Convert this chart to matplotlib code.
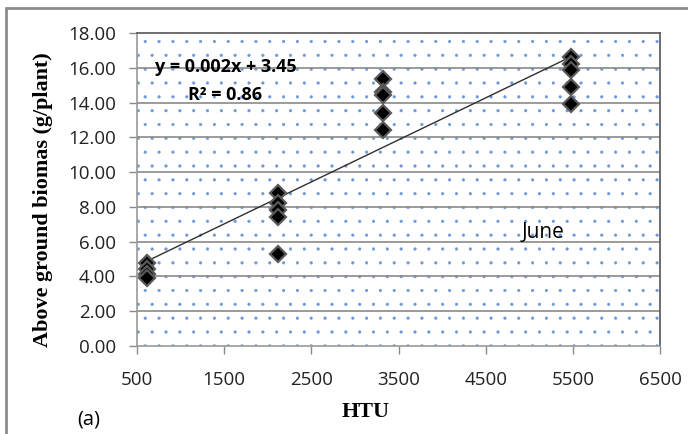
import numpy as np
import matplotlib.pyplot as plt
from matplotlib.patches import Rectangle

# HTU groups and biomass values
htu = [620, 620, 620, 620,
       2120, 2120, 2120, 2120, 2120,
       3320, 3320, 3320, 3320, 3320,
       5480, 5480, 5480, 5480, 5480]
biomass = [4.75, 4.45, 4.15, 3.9,
           8.8, 8.2, 7.8, 7.4, 5.3,
           15.35, 14.6, 14.45, 13.4, 12.45,
           16.6, 16.2, 15.85, 14.9, 13.9]
xticks = [500, 1500, 2500, 3500, 4500, 5500, 6500]
yticks = np.arange(0, 18.01, 2)

# lower dpi so the dot hatch gets the tighter spacing of the original
DPI = 250 / 3
S = 100 / DPI  # keeps sizes as if drawn at 100 dpi

plt.rcParams['hatch.linewidth'] = 0.3
plt.rcParams['hatch.color'] = '#6b98d6'

fig = plt.figure(figsize=(688 / DPI, 434 / DPI), dpi=DPI)
ax = fig.add_axes([137/688, 1 - 346/434, (660-137)/688, (346-33)/434])

# outer frame
fig.patches.append(Rectangle((6/688, -0.1), 1.2, 1 - 8/434 + 0.1, transform=fig.transFigure,
                             fill=False, edgecolor='#8c8c8c', linewidth=2*S))

# dotted fill of the plot area
ax.add_patch(Rectangle((0, 0), 1, 1, transform=ax.transAxes, facecolor='white',
                       hatch='.', edgecolor='#6b98d6', linewidth=0, zorder=0))

for y in yticks[1:-1]:
    ax.axhline(y, color='#8a8a8a', linewidth=1.2*S, zorder=1)

ax.plot(htu, biomass, linestyle='none', marker='D', markersize=8.5*S,
        markerfacecolor='black', markeredgecolor='#5a5a5a', markeredgewidth=1.6*S, zorder=3)

# linear trend line over the data range
k, b = np.polyfit(htu, biomass, 1)
xs = np.array([min(htu), max(htu)])
ax.plot(xs, k * xs + b, color='#303030', linewidth=1.0*S, zorder=2)

ax.set_xlim(500, 6500)
ax.set_ylim(0, 18)
ax.set_xticks(xticks)
ax.set_yticks(yticks)
ax.set_yticklabels([f'{v:.2f}' for v in yticks])
ax.tick_params(direction='out', length=6*S, width=1*S, color='#8a8a8a', labelsize=13.5*S)
ax.tick_params(axis='y', pad=9*S)
ax.tick_params(axis='x', pad=12*S)
for lab in ax.get_xticklabels() + ax.get_yticklabels():
    lab.set_family('Open Sans')
    lab.set_color('#222222')
for s in ax.spines.values():
    s.set_color('#555555')
    s.set_linewidth(1.2*S)
ax.spines['bottom'].set_color('#9a9a9a')
ax.spines['left'].set_color('#9a9a9a')

ax.text(155/688, 1 - 67/434, 'y = 0.002x + 3.45', transform=fig.transFigure, fontsize=13*S,
        fontweight='bold', family='Open Sans', va='center', ha='left', zorder=4)
ax.text(188/688, 1 - 95/434, 'R² = 0.86', transform=fig.transFigure, fontsize=13*S,
        fontweight='bold', family='Open Sans', va='center', ha='left', zorder=4)
ax.text(522/688, 1 - 233/434, 'June', transform=fig.transFigure, fontsize=15*S,
        family='Open Sans', va='center', ha='left', zorder=4)

fig.text(366/688, 1 - 412/434, 'HTU', fontsize=16*S, fontweight='bold',
         family='Liberation Serif', ha='center', va='center')
fig.text(43/688, 1 - 200/434, 'Above ground biomas (g/plant)', fontsize=16*S,
         fontweight='bold', family='Liberation Serif', rotation=90, ha='center', va='center')
fig.text(77/688, 1 - 420/434, '(a)', fontsize=14.5*S, family='Open Sans', va='center', ha='left')

fig.savefig('out.png', dpi=DPI)
